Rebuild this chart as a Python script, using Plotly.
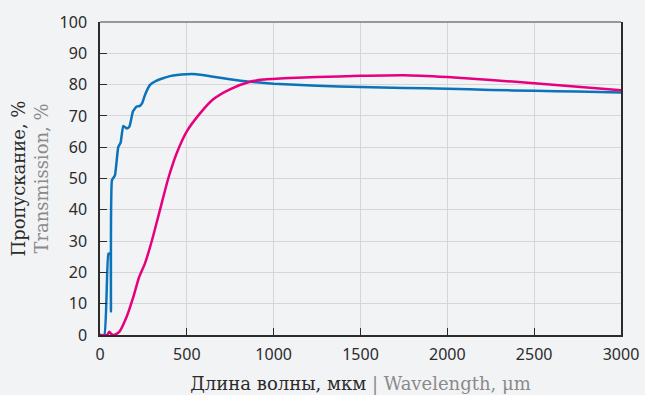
import plotly.graph_objects as go

# Wavelength (um) and transmission (%) — blue series
wl_blue = [0, 25, 48, 58, 63, 69, 86, 105, 119, 134, 154, 169, 190, 211, 230, 242, 259, 288, 326, 403, 499, 556, 633, 748, 864, 1000, 1250, 1500, 1750, 2000, 2250, 2500, 2750, 3000]
t_blue = [0, 0, 26, 26, 7.5, 49.5, 51, 60, 61.5, 66.8, 66, 66.5, 71.5, 73, 73.2, 74, 76.7, 79.9, 81.3, 82.7, 83.3, 83.3, 82.7, 81.7, 80.9, 80.3, 79.6, 79.2, 78.9, 78.7, 78.3, 78.0, 77.8, 77.5]

# Pink series
wl_pink = [0, 40, 54, 65, 80, 111, 154, 192, 226, 259, 297, 345, 393, 441, 499, 576, 652, 748, 864, 940, 1094, 1250, 1500, 1750, 2000, 2250, 2500, 2750, 3000]
t_pink = [0, 0, 1, 0.3, 0, 1, 5.9, 12.2, 18.6, 22.9, 29.8, 39.9, 50, 58, 65, 70.8, 75.3, 78.5, 80.9, 81.6, 82.1, 82.4, 82.8, 83.0, 82.4, 81.5, 80.4, 79.3, 78.2]

x_ticks = [0, 500, 1000, 1500, 2000, 2500, 3000]
y_ticks = [0, 10, 20, 30, 40, 50, 60, 70, 80, 90, 100]

BLUE = "#0a73b9"
PINK = "#e6007e"
BG = "#f2f3f5"
DARK = "#2b2b2b"
GRAY = "#8a8a8a"

fig = go.Figure()
fig.add_trace(go.Scatter(x=wl_blue, y=t_blue, mode="lines",
                         line=dict(color=BLUE, width=2.5, shape="spline", smoothing=0.4),
                         showlegend=False, hoverinfo="skip"))
fig.add_trace(go.Scatter(x=wl_pink, y=t_pink, mode="lines",
                         line=dict(color=PINK, width=2.5, shape="spline", smoothing=0.6),
                         showlegend=False, hoverinfo="skip"))

tick_font = dict(family="Noto Sans", size=16, color=DARK)
title_font = dict(family="DejaVu Serif", size=18, color=DARK)

fig.update_layout(
    width=645, height=395,
    margin=dict(l=100, r=24, t=22, b=60, autoexpand=False),
    paper_bgcolor=BG, plot_bgcolor=BG,
    xaxis=dict(range=[0, 3000], tickvals=x_ticks, ticktext=[str(v) for v in x_ticks],
               showgrid=True, gridcolor="#d6d6d8", gridwidth=1,
               showline=True, linecolor=DARK, linewidth=1.5, automargin=False,
               ticks="inside", ticklen=7, tickcolor=DARK, tickwidth=1.2,
               tickfont=tick_font, zeroline=False, ticklabelstandoff=4,
               title=dict(text="Длина волны, мкм <span style='color:#8a8a8a'>| Wavelength, μm</span>",
                          font=title_font, standoff=14)),
    yaxis=dict(range=[0, 100], tickvals=y_ticks, ticktext=[str(v) for v in y_ticks],
               showgrid=True, gridcolor="#d6d6d8", gridwidth=1,
               showline=True, linecolor=DARK, linewidth=1.5, mirror=True, automargin=False,
               ticks="inside", ticklen=7, tickcolor=DARK, tickwidth=1.2,
               tickfont=tick_font, zeroline=False, ticklabelstandoff=8,
               title=dict(text="Пропускание, %<br><span style='color:#8a8a8a'>Transmission, %</span>",
                          font=title_font, standoff=6)),
    shapes=[dict(type="line", xref="paper", yref="paper", x0=0, x1=1, y0=1, y1=1,
                 line=dict(color="#7a7a7a", width=1.5))],
)

fig.write_html("out.html")
